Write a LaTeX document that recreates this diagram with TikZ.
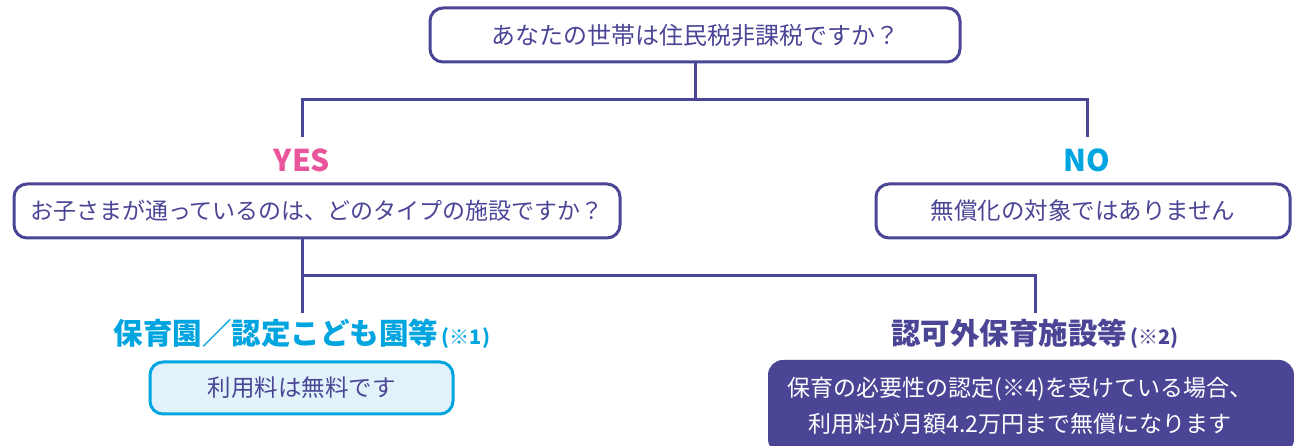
\documentclass[tikz,border=0pt]{standalone}
\usepackage{fontspec}
\newfontfamily\jp{Noto Sans CJK JP}
\definecolor{pur}{RGB}{75,69,150}
\definecolor{pink}{RGB}{232,85,154}
\definecolor{cyanc}{RGB}{0,165,224}
\definecolor{lightb}{RGB}{225,242,251}
\begin{document}
\begin{tikzpicture}[x=1pt,y=-1pt,
  qbox/.style={draw=pur,line width=3pt,rounded corners=13pt,fill=white,text=pur,
    font=\jp\fontsize{23.5}{28}\selectfont,inner sep=0pt},
  conn/.style={draw=pur,line width=3pt,line join=miter},
  lab/.style={font=\jp\bfseries\fontsize{29.5}{34}\selectfont,inner sep=0pt},
  yn/.style={font=\jp\bfseries\fontsize{30}{34}\selectfont,inner sep=0pt}]
\useasboundingbox (0,0) rectangle (1294,446);
\clip (0,0) rectangle (1294,446);
% coordinates
\coordinate (j0) at (695,100);
\coordinate (yesEnd) at (302,137);
\coordinate (noEnd) at (1087,137);
\coordinate (j1) at (302,276);
\coordinate (f1) at (302,313);
\coordinate (f2) at (1035,313);
% boxes
\node[qbox,font=\jp\fontsize{24}{28}\selectfont,minimum width=530pt,minimum height=54pt] (q1) at (695,35) {あなたの世帯は住民税非課税ですか？};
\node[qbox,font=\jp\fontsize{23}{28}\selectfont,minimum width=606pt,minimum height=54pt] (q2) at (317,211) {お子さまが通っているのは、どのタイプの施設ですか？};
\node[qbox,minimum width=414pt,minimum height=54pt] (no1) at (1083,211) {無償化の対象ではありません};
\node[qbox,draw=cyanc,fill=lightb,minimum width=303pt,minimum height=52pt] (r1) at (301.5,388) {利用料は無料です};
\node[draw=pur,fill=pur,line width=2pt,rounded corners=14pt,minimum width=524pt,minimum height=92pt,inner sep=0pt] (r2) at (1031,407) {};
\node[text=white,font=\jp\fontsize{23}{36}\selectfont,align=center,inner sep=0pt] (r2t) at (1020,406)
  {保育の必要性の認定(※4)を受けている場合、\\利用料が月額4.2万円まで無償になります};
% labels
\node[yn,text=pink] (yes) at (302,160) {YES};
\node[yn,text=cyanc] (no) at (1087,160) {NO};
\node[lab,text=cyanc] (l1) at (302,334) {保育園／認定こども園等{\fontsize{20}{24}\selectfont\,(※1)}};
\node[lab,text=pur] (l2) at (1035,334) {認可外保育施設等{\fontsize{20}{24}\selectfont\,(※2)}};
% connectors
\draw[conn] (q1.south) -- (j0);
\draw[conn] (yesEnd) -- (yesEnd |- j0) -- (noEnd |- j0) -- (noEnd);
\draw[conn] (q2.south -| f1) -- (f1);
\draw[conn] (f1 |- j1) -- (f2 |- j1) -- (f2);
\end{tikzpicture}
\end{document}
